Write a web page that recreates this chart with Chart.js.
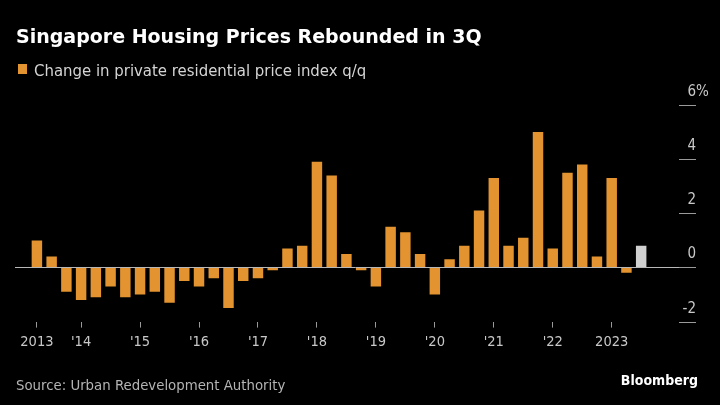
<!DOCTYPE html>
<html><head><meta charset="utf-8">
<script src="https://cdn.jsdelivr.net/npm/chart.js@4"></script>
<style>
html,body{margin:0;padding:0;background:#000;}
#wrap{position:relative;width:720px;height:405px;background:#000;overflow:hidden;}
canvas{position:absolute;left:0;top:0;}
.t{position:absolute;white-space:nowrap;line-height:1;}
#title{left:16px;top:25px;font:bold 19px "DejaVu Sans";color:#fff;}
#legend{left:18px;top:61px;font:16.6px "DejaVu Sans Condensed";color:#d4d4d4;}
#legend .sw{position:absolute;left:0;top:3px;width:9px;height:10px;background:#E3932F;}
#legend .lt{position:absolute;left:16px;top:0;}
#source{left:16px;top:376px;font:14.8px "DejaVu Sans Condensed";color:#b4b4b4;}
#brand{right:22px;top:372px;font:bold 14px "DejaVu Sans Condensed";color:#fff;}
</style></head><body>
<div id="wrap">
<canvas id="c" width="720" height="405"></canvas>
<div class="t" id="title">Singapore Housing Prices Rebounded in 3Q</div>
<div class="t" id="legend"><span class="sw"></span><span class="lt">Change in private residential price index q/q</span></div>
<div class="t" id="source">Source: Urban Redevelopment Authority</div>
<div class="t" id="brand">Bloomberg</div>
</div>
<script>
const quarters = [
  '2013Q2','2013Q3','2013Q4',
  '2014Q1','2014Q2','2014Q3','2014Q4',
  '2015Q1','2015Q2','2015Q3','2015Q4',
  '2016Q1','2016Q2','2016Q3','2016Q4',
  '2017Q1','2017Q2','2017Q3','2017Q4',
  '2018Q1','2018Q2','2018Q3','2018Q4',
  '2019Q1','2019Q2','2019Q3','2019Q4',
  '2020Q1','2020Q2','2020Q3','2020Q4',
  '2021Q1','2021Q2','2021Q3','2021Q4',
  '2022Q1','2022Q2','2022Q3','2022Q4',
  '2023Q1','2023Q2','2023Q3'
];
const values = [
  1.0, 0.4, -0.9,
  -1.2, -1.1, -0.7, -1.1,
  -1.0, -0.9, -1.3, -0.5,
  -0.7, -0.4, -1.5, -0.5,
  -0.4, -0.1, 0.7, 0.8,
  3.9, 3.4, 0.5, -0.1,
  -0.7, 1.5, 1.3, 0.5,
  -1.0, 0.3, 0.8, 2.1,
  3.3, 0.8, 1.1, 5.0,
  0.7, 3.5, 3.8, 0.4,
  3.3, -0.2, 0.8
];
const flashQuarter = '2023Q3';
const xTickQuarters = ['2013Q2','2014Q1','2015Q1','2016Q1','2017Q1','2018Q1','2019Q1','2020Q1','2021Q1','2022Q1','2023Q1'];
const xTickLabels = ['2013',"'14","'15","'16","'17","'18","'19","'20","'21","'22",'2023'];
const yTicks = [-2, 0, 2, 4, 6];

const ORANGE = '#E3932F';
const GREY = '#D0D0D0';
const LABEL_FONT = '"DejaVu Sans Condensed"';

const points = quarters.map((q, i) => ({ x: i, y: values[i] }));
const xTickIdx = xTickQuarters.map(q => quarters.indexOf(q));

const yAxisPlugin = {
  id: 'yAxisRight',
  afterDraw(chart) {
    const { ctx, chartArea, scales: { y } } = chart;
    ctx.save();
    ctx.strokeStyle = '#9a9a9a';
    ctx.lineWidth = 1;
    ctx.font = '15px ' + LABEL_FONT;
    ctx.fillStyle = '#c8c8c8';
    ctx.textBaseline = 'alphabetic';
    yTicks.forEach((v, i) => {
      const py = Math.round(y.getPixelForValue(v)) + 0.5;
      ctx.beginPath();
      ctx.moveTo(chartArea.right - 17, py);
      ctx.lineTo(chartArea.right, py);
      ctx.stroke();
      ctx.textAlign = 'right';
      ctx.fillText(String(v), chartArea.right, py - 10);
      if (i === yTicks.length - 1) {
        ctx.textAlign = 'left';
        ctx.fillText('%', chartArea.right, py - 10);
      }
    });
    ctx.restore();
  }
};

new Chart(document.getElementById('c'), {
  type: 'bar',
  data: {
    datasets: [{
      data: points,
      backgroundColor: ctx => quarters[ctx.dataIndex] === flashQuarter ? GREY : ORANGE,
      borderWidth: 0,
      categoryPercentage: 1,
      barPercentage: 0.71
    }]
  },
  options: {
    responsive: false,
    animation: false,
    devicePixelRatio: 1,
    layout: { padding: { left: 15, right: 24, top: 105, bottom: 48 } },
    plugins: { legend: { display: false }, tooltip: { enabled: false } },
    scales: {
      x: {
        type: 'linear',
        offset: false,
        min: -1.486,
        max: 44.72,
        afterBuildTicks: scale => { scale.ticks = xTickIdx.map(v => ({ value: v })); },
        ticks: {
          autoSkip: false,
          maxRotation: 0,
          padding: 6,
          color: '#c8c8c8',
          font: { family: LABEL_FONT, size: 14.5 },
          callback: (value) => xTickLabels[xTickIdx.indexOf(value)]
        },
        grid: { display: true, offset: false, drawOnChartArea: false, tickLength: 6, tickColor: '#9a9a9a', tickWidth: 1 },
        border: { display: false }
      },
      y: {
        min: -2,
        max: 6,
        ticks: { display: false, stepSize: 2 },
        grid: {
          drawTicks: false,
          color: ctx => (ctx.tick && ctx.tick.value === 0) ? '#b8b8b8' : 'rgba(0,0,0,0)',
          lineWidth: 1
        },
        border: { display: false }
      }
    }
  },
  plugins: [yAxisPlugin]
});
</script>
</body></html>
